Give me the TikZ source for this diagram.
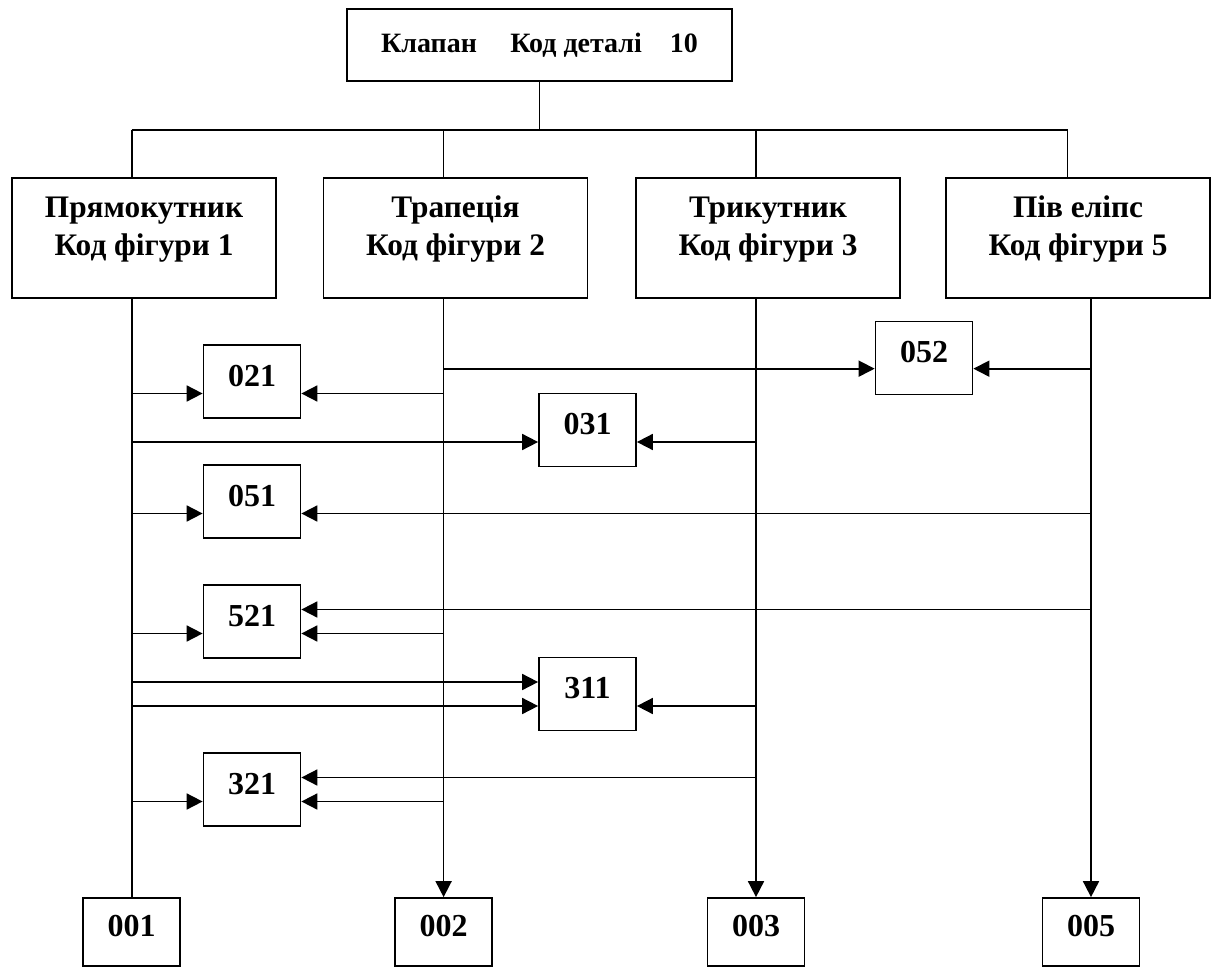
\documentclass[tikz,border=0pt]{standalone}
\usepackage{fontspec}
\setmainfont{Liberation Serif}
\usetikzlibrary{arrows.meta,calc}
\begin{document}
\begin{tikzpicture}[x=0.75pt,y=-0.75pt,
  lw/.style={line width=1.3pt},
  topbox/.style={draw,lw,rectangle,inner sep=0pt,minimum width=288.75pt,minimum height=54pt,
    font=\bfseries\fontsize{21}{26}\selectfont},
  figbox/.style={draw,lw,rectangle,inner sep=0pt,minimum width=198pt,minimum height=90pt,
    align=center,text height=40pt,text depth=13pt,font=\bfseries\fontsize{23.5}{28.5}\selectfont},
  numbox/.style={draw,lw,rectangle,inner sep=0pt,minimum width=72.75pt,minimum height=54.75pt,
    text height=16.5pt,text depth=9.5pt,font=\bfseries\fontsize{24}{28}\selectfont},
  endbox/.style={numbox,minimum height=51pt},
  conn/.style={lw},
  arr/.style={lw,-{Triangle[length=12pt,width=12pt]}}]
\useasboundingbox (0,0) rectangle (1212,969);

% top
\node[topbox] (top) at (539.5,45) {Клапан\hspace{25pt}Код деталі\hspace{21pt}10};

% figure boxes
\node[figbox] (r1) at (144,238) {Прямокутник\\Код фігури 1};
\node[figbox] (r2) at (455.5,238) {Трапеція\\Код фігури 2};
\node[figbox] (r3) at (768,238) {Трикутник\\Код фігури 3};
\node[figbox] (r4) at (1078,238) {Пів еліпс\\Код фігури 5};

% junctions on the bus
\coordinate (j1) at (131.7,130);
\coordinate (j2) at (443.6,130);
\coordinate (j3) at (756,130);
\coordinate (j4) at (1067.6,130);

% end boxes
\node[endbox] (o1) at (131.7,932) {001};
\node[endbox] (o2) at (443.6,932) {002};
\node[endbox] (o3) at (756,932) {003};
\node[endbox] (o4) at (1091,932) {005};

% code boxes
\node[numbox] (b021) at (252,381.5) {021};
\node[numbox] (b031) at (587.5,430) {031};
\node[numbox] (b052) at (924,358) {052};
\node[numbox] (b051) at (252,501.5) {051};
\node[numbox] (b521) at (252,621.5) {521};
\node[numbox] (b311) at (587.5,694) {311};
\node[numbox] (b321) at (252,789.5) {321};

% tree connectors
\draw[conn] (top.south) -- (top.south |- j1);
\draw[conn] (j1) -- (j4);
\draw[conn] (j1) -- (j1 |- r1.north);
\draw[conn] (j2) -- (j2 |- r2.north);
\draw[conn] (j3) -- (j3 |- r3.north);
\draw[conn] (j4) -- (j4 |- r4.north);

% vertical lines down
\draw[conn] (o1.north |- r1.south) -- (o1.north);
\draw[arr] (o2.north |- r2.south) -- (o2.north);
\draw[arr] (o3.north |- r3.south) -- (o3.north);
\draw[arr] (o4.north |- r4.south) -- (o4.north);

% 021
\draw[arr] ([yshift=-9pt]b021.west -| o1.north) -- ([yshift=-9pt]b021.west);
\draw[arr] ([yshift=-9pt]b021.east -| o2.north) -- ([yshift=-9pt]b021.east);
% 052
\draw[arr] ([yshift=-8pt]b052.west -| o2.north) -- ([yshift=-8pt]b052.west);
\draw[arr] ([yshift=-8pt]b052.east -| o4.north) -- ([yshift=-8pt]b052.east);
% 031
\draw[arr] ([yshift=-9pt]b031.west -| o1.north) -- ([yshift=-9pt]b031.west);
\draw[arr] ([yshift=-9pt]b031.east -| o3.north) -- ([yshift=-9pt]b031.east);
% 051
\draw[arr] ([yshift=-9pt]b051.west -| o1.north) -- ([yshift=-9pt]b051.west);
\draw[arr] ([yshift=-9pt]b051.east -| o4.north) -- ([yshift=-9pt]b051.east);
% 521
\draw[arr] ([yshift=9pt]b521.east -| o4.north) -- ([yshift=9pt]b521.east);
\draw[arr] ([yshift=-9pt]b521.east -| o2.north) -- ([yshift=-9pt]b521.east);
\draw[arr] ([yshift=-9pt]b521.west -| o1.north) -- ([yshift=-9pt]b521.west);
% 311
\draw[arr] ([yshift=9pt]b311.west -| o1.north) -- ([yshift=9pt]b311.west);
\draw[arr] ([yshift=-9pt]b311.west -| o1.north) -- ([yshift=-9pt]b311.west);
\draw[arr] ([yshift=-9pt]b311.east -| o3.north) -- ([yshift=-9pt]b311.east);
% 321
\draw[arr] ([yshift=9pt]b321.east -| o3.north) -- ([yshift=9pt]b321.east);
\draw[arr] ([yshift=-9pt]b321.east -| o2.north) -- ([yshift=-9pt]b321.east);
\draw[arr] ([yshift=-9pt]b321.west -| o1.north) -- ([yshift=-9pt]b321.west);
\end{tikzpicture}
\end{document}
